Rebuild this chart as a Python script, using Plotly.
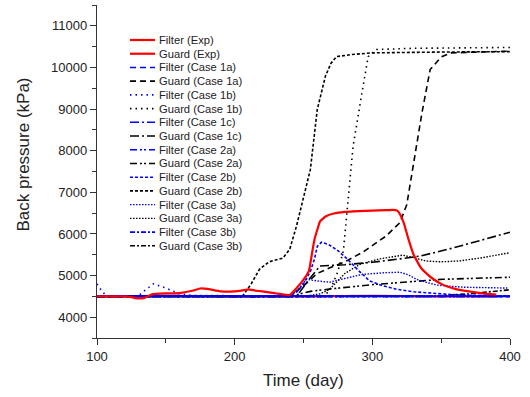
import plotly.graph_objects as go

# ---------------- data ----------------
filter_exp_x = [100, 110, 120, 125, 130, 135, 140, 150, 160, 170, 175, 180, 190, 200, 205, 210, 215, 220, 230, 235,
                240, 245, 250, 254, 256, 258, 260, 262, 266, 272, 280, 290, 300, 310, 315, 318, 320, 323, 326, 330,
                335, 340, 345, 350, 355, 360, 370, 380, 390]
filter_exp_y = [4500, 4500, 4500, 4480, 4450, 4470, 4550, 4570, 4580, 4640, 4690, 4680, 4620, 4620, 4640, 4670, 4640,
                4620, 4570, 4550, 4530, 4700, 4900, 5120, 5500, 5870, 6100, 6300, 6420, 6490, 6530, 6550, 6560, 6570,
                6580, 6560, 6480, 6250, 5900, 5500, 5200, 5030, 4900, 4800, 4730, 4680, 4620, 4570, 4540]

guard_exp_x = [100, 150, 200, 250, 300, 350, 390]
guard_exp_y = [4500, 4510, 4500, 4500, 4510, 4500, 4500]

filter_1a_x = [100, 200, 250, 300, 400]
filter_1a_y = [4500, 4505, 4520, 4510, 4500]
guard_1a_x = [100, 240, 250, 260, 270, 280, 293, 310, 320, 325, 330, 336, 342, 350, 357, 380, 400]
guard_1a_y = [4500, 4500, 4750, 5050, 5200, 5330, 5560, 5950, 6270, 6700, 7700, 8900, 9950, 10250, 10350, 10380, 10390]

filter_1b_x = [100, 103, 107, 130, 135, 141, 150, 160, 170, 200, 240, 400]
filter_1b_y = [4800, 4650, 4500, 4510, 4650, 4800, 4700, 4560, 4520, 4510, 4510, 4500]
guard_1b_x = [100, 265, 270, 275, 279, 282, 286, 292, 297, 303, 330, 400]
guard_1b_y = [4500, 4500, 4700, 5100, 5600, 6600, 8100, 9300, 10260, 10430, 10460, 10480]

filter_1c_x = [100, 200, 300, 400]
filter_1c_y = [4500, 4500, 4500, 4500]
guard_1c_x = [100, 245, 255, 262, 280, 300, 320, 335, 356, 380, 400]
guard_1c_y = [4500, 4500, 4950, 5230, 5260, 5320, 5400, 5470, 5640, 5850, 6040]

filter_2a_x = [100, 200, 300, 400]
filter_2a_y = [4500, 4500, 4500, 4500]
guard_2a_x = [100, 240, 255, 270, 303, 351, 400]
guard_2a_y = [4500, 4500, 4620, 4680, 4790, 4910, 4960]

filter_2b_x = [100, 200, 230, 240, 245, 250, 255, 258, 260, 263, 268, 275, 282, 290, 298, 308, 318, 330, 342, 355,
               366, 380, 400]
filter_2b_y = [4500, 4500, 4510, 4520, 4600, 4800, 5100, 5400, 5700, 5800, 5750, 5600, 5390, 5120, 4870, 4750, 4670,
               4610, 4575, 4550, 4530, 4515, 4510]
guard_2b_x = [100, 200, 206, 212, 218, 225, 235, 240, 245, 250, 255, 260, 266, 270, 274, 285, 300, 350, 400]
guard_2b_y = [4500, 4500, 4520, 4800, 5150, 5330, 5420, 5630, 6200, 6900, 7550, 8990, 9800, 10100, 10260, 10310,
              10350, 10370, 10380]

filter_3a_x = [100, 240, 247, 252, 260, 269, 280, 293, 310, 320, 326, 332, 340, 347, 366, 398]
filter_3a_y = [4500, 4500, 4700, 4910, 4870, 4840, 4930, 5030, 5070, 5080, 5020, 4910, 4830, 4770, 4720, 4700]
guard_3a_x = [100, 250, 262, 269, 280, 291, 305, 322, 330, 339, 350, 363, 380, 400]
guard_3a_y = [4500, 4500, 4560, 4670, 5050, 5270, 5400, 5490, 5430, 5350, 5330, 5350, 5430, 5550]

filter_3b_x = [100, 200, 300, 400]
filter_3b_y = [4500, 4500, 4500, 4500]
guard_3b_x = [100, 340, 370, 400]
guard_3b_y = [4500, 4500, 4560, 4660]

x_ticks = [100, 200, 300, 400]
y_ticks = [4000, 5000, 6000, 7000, 8000, 9000, 10000, 11000]

# ---------------- styling ----------------
RED, BLUE, BLACK = "#ff0000", "#0000ff", "#000000"
DASH = {
    "exp": "solid",
    "1a": "6px,4px",
    "1b": "1.5px,4px",
    "1c": "9px,3px,2px,3px",
    "2a": "7px,3px,2px,2px,2px,3px",
    "2b": "3px,2px",
    "3a": "1.5px,1.5px",
    "3b": "5px,2px,2px,2px",
}

series = [
    ("Filter (Exp)", filter_exp_x, filter_exp_y, RED, "exp", 2.2),
    ("Guard (Exp)", guard_exp_x, guard_exp_y, RED, "exp", 2.2),
    ("Filter (Case 1a)", filter_1a_x, filter_1a_y, BLUE, "1a", 1.6),
    ("Guard (Case 1a)", guard_1a_x, guard_1a_y, BLACK, "1a", 1.6),
    ("Filter (Case 1b)", filter_1b_x, filter_1b_y, BLUE, "1b", 1.6),
    ("Guard (Case 1b)", guard_1b_x, guard_1b_y, BLACK, "1b", 1.6),
    ("Filter (Case 1c)", filter_1c_x, filter_1c_y, BLUE, "1c", 1.6),
    ("Guard (Case 1c)", guard_1c_x, guard_1c_y, BLACK, "1c", 1.6),
    ("Filter (Case 2a)", filter_2a_x, filter_2a_y, BLUE, "2a", 1.6),
    ("Guard (Case 2a)", guard_2a_x, guard_2a_y, BLACK, "2a", 1.6),
    ("Filter (Case 2b)", filter_2b_x, filter_2b_y, BLUE, "2b", 1.6),
    ("Guard (Case 2b)", guard_2b_x, guard_2b_y, BLACK, "2b", 1.6),
    ("Filter (Case 3a)", filter_3a_x, filter_3a_y, BLUE, "3a", 1.4),
    ("Guard (Case 3a)", guard_3a_x, guard_3a_y, BLACK, "3a", 1.4),
    ("Filter (Case 3b)", filter_3b_x, filter_3b_y, BLUE, "3b", 1.6),
    ("Guard (Case 3b)", guard_3b_x, guard_3b_y, BLACK, "3b", 1.6),
]

fig = go.Figure()

# Guard (Exp) at the bottom, then black, then blue, Filter (Exp) on top
order = ([series[1]] + [s for s in series if s[3] == BLACK] + [s for s in series if s[3] == BLUE]
         + [series[0]])
for name, xs, ys, col, key, w in order:
    if col == RED:
        line = dict(color=col, width=w, dash=DASH[key], shape="spline", smoothing=0.3)
    else:
        line = dict(color=col, width=w, dash=DASH[key], shape="linear")
    fig.add_trace(go.Scatter(
        x=xs, y=ys, mode="lines", name=name, showlegend=False,
        line=line, hoverinfo="skip",
    ))

# ---------------- layout geometry ----------------
W, H = 530, 397
L, R, T, B = 97, 20, 5, 59
pw, ph = W - L - R, H - T - B

def px_to_paper_x(px):
    return (px - L) / pw

def px_to_paper_y(py):
    return (H - B - py) / ph

FONT = "Liberation Sans, Arial, sans-serif"

shapes = []
annotations = []
# custom legend (top-left, inside plot)
leg_top, leg_step = 40, 13.72
for i, (name, xs, ys, col, key, w) in enumerate(series):
    yy = px_to_paper_y(leg_top + i * leg_step)
    shapes.append(dict(type="line", xref="paper", yref="paper",
                       x0=px_to_paper_x(130), x1=px_to_paper_x(155), y0=yy, y1=yy,
                       line=dict(color=col, width=w, dash=DASH[key])))
    annotations.append(dict(xref="paper", yref="paper", x=px_to_paper_x(156.5), y=yy,
                            text=name, showarrow=False, xanchor="left", yanchor="middle",
                            font=dict(family=FONT, size=11.2, color="#222")))

# axis titles
annotations.append(dict(xref="paper", yref="paper", x=px_to_paper_x(23.5), y=px_to_paper_y(155),
                        text="Back pressure (kPa)", textangle=-90, showarrow=False,
                        xanchor="center", yanchor="middle",
                        font=dict(family=FONT, size=17, color="#222")))
annotations.append(dict(xref="paper", yref="paper", x=px_to_paper_x(303.5), y=px_to_paper_y(380),
                        text="Time (day)", showarrow=False, xanchor="center", yanchor="middle",
                        font=dict(family=FONT, size=17, color="#222")))

fig.update_layout(
    width=W, height=H,
    margin=dict(l=L, r=R, t=T, b=B),
    paper_bgcolor="white", plot_bgcolor="white",
    font=dict(family=FONT, size=13, color="#222"),
    shapes=shapes, annotations=annotations,
    showlegend=False,
)

fig.update_xaxes(
    range=[100, 400], tickvals=x_ticks, ticktext=[str(v) for v in x_ticks],
    showgrid=False, zeroline=False, showline=True, linecolor="#333", linewidth=1.3,
    ticks="outside", ticklen=6, tickwidth=1.2, tickcolor="#333",
    tickfont=dict(family=FONT, size=13, color="#222"),
    minor=dict(dtick=50, ticks="outside", ticklen=4, tickwidth=1.2, tickcolor="#333", showgrid=False),
)
fig.update_yaxes(
    range=[3500, 11500], tickvals=y_ticks, ticktext=[str(v) for v in y_ticks],
    showgrid=False, zeroline=False, showline=True, linecolor="#333", linewidth=1.3,
    ticks="outside", ticklen=6, tickwidth=1.2, tickcolor="#333",
    tickfont=dict(family=FONT, size=13, color="#222"),
    minor=dict(dtick=500, ticks="outside", ticklen=4, tickwidth=1.2, tickcolor="#333", showgrid=False),
)

fig.write_html("out.html")
